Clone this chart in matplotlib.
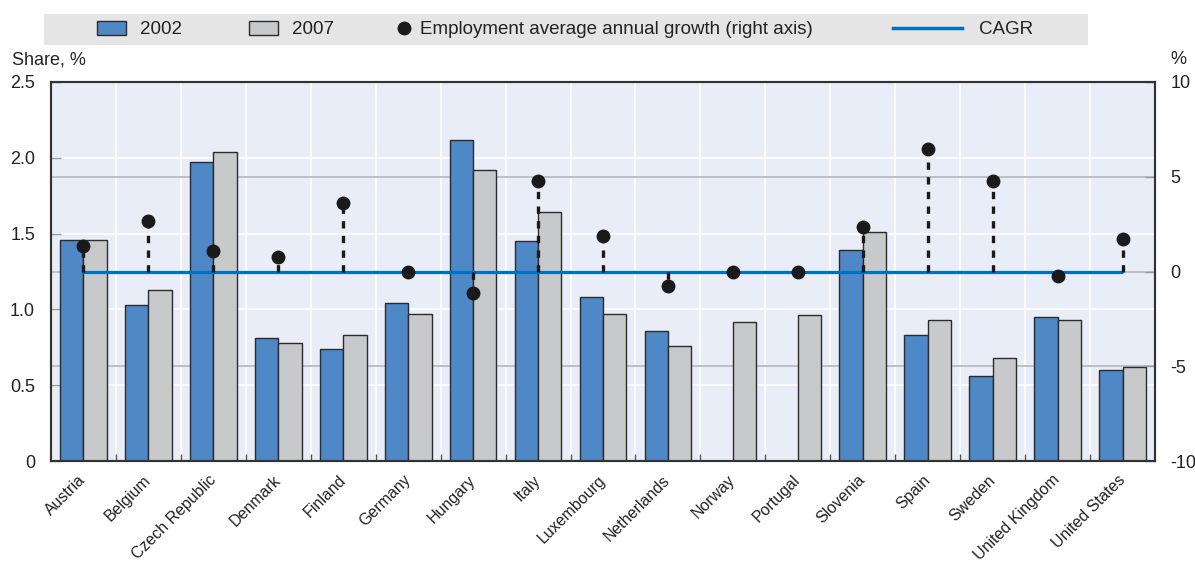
import matplotlib
matplotlib.use("Agg")
import matplotlib.pyplot as plt
from matplotlib.patches import Rectangle, Patch
from matplotlib.lines import Line2D
import numpy as np

countries = ["Austria", "Belgium", "Czech Republic", "Denmark", "Finland", "Germany",
             "Hungary", "Italy", "Luxembourg", "Netherlands", "Norway", "Portugal",
             "Slovenia", "Spain", "Sweden", "United Kingdom", "United States"]
share_2002 = [1.46, 1.03, 1.97, 0.81, 0.74, 1.04, 2.12, 1.45, 1.08, 0.86, np.nan, np.nan,
              1.39, 0.83, 0.56, 0.95, 0.60]
share_2007 = [1.46, 1.13, 2.04, 0.78, 0.83, 0.97, 1.92, 1.64, 0.97, 0.76, 0.92, 0.96,
              1.51, 0.93, 0.68, 0.93, 0.62]
growth = [1.36, 2.66, 1.10, 0.74, 3.61, 0.0, -1.13, 4.76, 1.87, -0.78, 0.0, 0.0,
          2.36, 6.44, 4.76, -0.25, 1.71]
cagr = [0.0] * len(countries)

left_ticks = [0, 0.5, 1.0, 1.5, 2.0, 2.5]
left_labels = ["0", "0.5", "1.0", "1.5", "2.0", "2.5"]
right_ticks = [-10, -5, 0, 5, 10]

FONT = ["Liberation Sans Narrow", "Liberation Sans", "DejaVu Sans"]
plt.rcParams["font.family"] = FONT
FS = 13

BLUE = "#4e88c7"
GRAY = "#c8c9cb"
BG = "#e9edf7"
EDGE = "#2b2b2b"
LINEBLUE = "#0070c0"
TXT = "#222222"

fig = plt.figure(figsize=(11.95, 5.64), dpi=100)
ax = fig.add_axes([51/1195, 1 - 461/564, (1155-51)/1195, (461-82)/564])
ax.set_facecolor(BG)
ax.set_xlim(-0.5, len(countries) - 0.5)
ax.set_ylim(0, 2.5)
ylo, yhi = -10, 10

def right_to_left(v):
    return (v - ylo) / (yhi - ylo) * 2.5

x = np.arange(len(countries))
w = 0.36
# gridlines
for xi in x[:-1]:
    ax.axvline(xi + 0.5, color="white", lw=1.2, zorder=0.5)
for t in left_ticks[1:-1]:
    ax.axhline(t, color="white", lw=1.2, zorder=0.5)
for t in right_ticks[1:-1]:
    ax.axhline(right_to_left(t), color="#b5b7bc", lw=1.2, zorder=0.6)

ax.bar(x - w/2, share_2002, w, color=BLUE, edgecolor=EDGE, lw=1.0, zorder=2)
ax.bar(x + w/2, share_2007, w, color=GRAY, edgecolor=EDGE, lw=1.0, zorder=2)

ax.set_yticks(left_ticks)
ax.set_yticklabels(left_labels)
ax.set_xticks(x[:-1] + 0.5, minor=False)
ax.set_xticklabels([])
ax.set_xticks(x, minor=True)
ax.set_xticklabels(countries, minor=True, rotation=45, ha="right", va="center",
                   rotation_mode="anchor")
ax.tick_params(axis="x", which="major", direction="in", length=5, color="#555555", width=1)
ax.tick_params(axis="x", which="minor", length=0, pad=12, labelsize=11.5, labelcolor=TXT)
ax.tick_params(axis="y", direction="in", length=7, color="#999999", width=1,
               labelsize=FS, pad=11.5, labelcolor=TXT)
for s in ax.spines.values():
    s.set_color("#333333")
    s.set_linewidth(1.5)

ax2 = ax.twinx()
ax2.set_ylim(ylo, yhi)
ax2.set_yticks(right_ticks)
ax2.set_yticklabels([str(t) for t in right_ticks])
ax2.tick_params(axis="y", direction="in", length=7, color="#999999", width=1,
                labelsize=FS, pad=11, labelcolor=TXT)
for s in ax2.spines.values():
    s.set_color("#333333")
    s.set_linewidth(1.5)

ax2.plot(x, cagr, color=LINEBLUE, lw=2.3, zorder=3, solid_capstyle="butt")
ax2.vlines(x, 0, growth, colors="#1a1a1a", linestyles=(0, (2.2, 2.2)), lw=2.4, zorder=4)
ax2.plot(x, growth, "o", color="#1a1a1a", ms=9, zorder=5)

fig.text(12/1195, 1 - 60/564, "Share, %", fontsize=FS, ha="left", va="center", color=TXT)
fig.text(1170/1195, 1 - 60/564, "%", fontsize=FS, ha="left", va="center", color=TXT)

# legend band
fig.patches.append(Rectangle((44/1195, 1 - 45/564), (1088-44)/1195, 31/564,
                             transform=fig.transFigure, facecolor="#e5e5e5",
                             edgecolor="none", zorder=0))
ly = 1 - 29.5/564
items = [
    (Patch(facecolor=BLUE, edgecolor=EDGE, lw=1.0), "2002", 97, 1.55, 0.75),
    (Patch(facecolor=GRAY, edgecolor=EDGE, lw=1.0), "2007", 249, 1.55, 0.75),
    (Line2D([], [], marker="o", color="#1a1a1a", ls="none", ms=9),
     "Employment average annual growth (right axis)", 395, 1.0, 0.35),
    (Line2D([], [], color=LINEBLUE, lw=2.5), "CAGR", 893, 3.7, 0.9),
]
for h, lab, px, hl, tp in items:
    leg = fig.legend([h], [lab], loc="center left", bbox_to_anchor=(px/1195, ly),
                     frameon=False, fontsize=FS + 0.5, handlelength=hl, handleheight=0.8,
                     handletextpad=tp, borderpad=0, borderaxespad=0, labelcolor=TXT)

fig.savefig("out.png", dpi=100)
